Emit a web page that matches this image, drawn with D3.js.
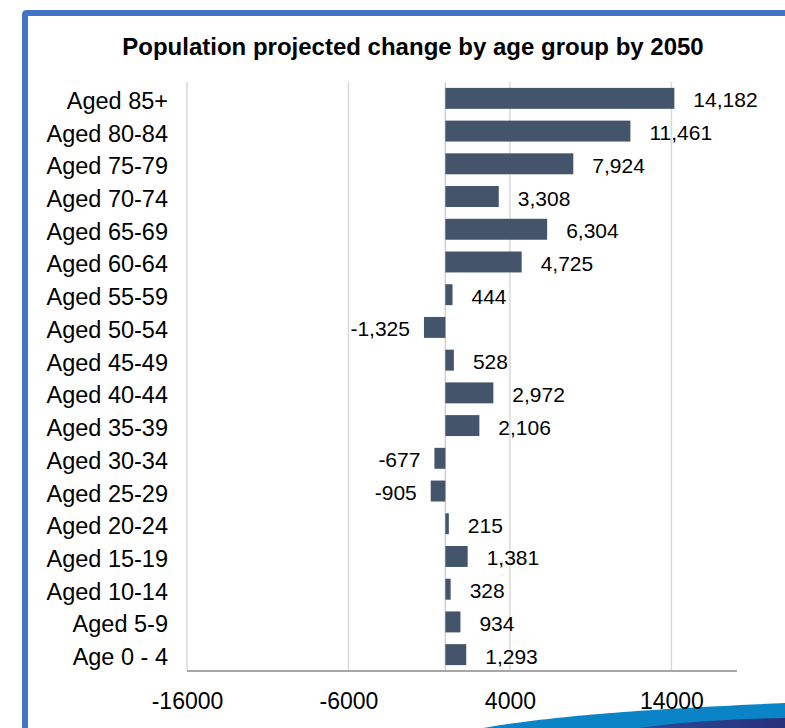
<!DOCTYPE html>
<html>
<head>
<meta charset="utf-8">
<script src="https://cdn.jsdelivr.net/npm/d3@7"></script>
<style>
  body { margin: 0; background: #fff; }
  svg text { font-family: "Liberation Sans", Arial, sans-serif; fill: #000; }
</style>
</head>
<body>
<div id="chart"></div>
<script>
// chart data
var categories = ["Aged 85+", "Aged 80-84", "Aged 75-79", "Aged 70-74", "Aged 65-69",
  "Aged 60-64", "Aged 55-59", "Aged 50-54", "Aged 45-49", "Aged 40-44", "Aged 35-39",
  "Aged 30-34", "Aged 25-29", "Aged 20-24", "Aged 15-19", "Aged 10-14", "Aged 5-9", "Age 0 - 4"];
var values = [14182, 11461, 7924, 3308, 6304, 4725, 444, -1325, 528, 2972, 2106,
  -677, -905, 215, 1381, 328, 934, 1293];
var xTicks = [-16000, -6000, 4000, 14000];
var xDomain = [-16000, 18000];
var title = "Population projected change by age group by 2050";

var width = 785;
var height = 728;

// plain hyphen for negatives, like the original
var locale = d3.formatLocale({ decimal: ".", thousands: ",", grouping: [3], currency: ["", ""], minus: "-" });
var fmt = locale.format(",");
var tickFmt = locale.format("d");

var svg = d3.select("#chart")
  .append("svg")
  .attr("width", width)
  .attr("height", height);

// decorative swoosh at the bottom
svg.append("path")
  .attr("fill", "#0a84c6")
  .attr("d", "M483,728 C540,718 620,710 785,703 L785,728 Z");
var grad = svg.append("defs").append("linearGradient")
  .attr("id", "navy").attr("x1", "0").attr("x2", "1");
grad.append("stop").attr("offset", "0").attr("stop-color", "#2a4a9a");
grad.append("stop").attr("offset", "1").attr("stop-color", "#27307a");
svg.append("path")
  .attr("fill", "url(#navy)")
  .attr("d", "M638,728 C680,722 730,719 785,718 L785,728 Z");

// blue frame (top and left)
svg.append("path")
  .attr("fill", "none")
  .attr("stroke", "#4472c4")
  .attr("stroke-width", 6)
  .attr("d", "M25,728 L25,15 Q25,13 27,13 L785,13");

svg.append("text")
  .attr("x", 413)
  .attr("y", 55)
  .attr("text-anchor", "middle")
  .style("font-size", "24px")
  .style("font-weight", "bold")
  .text(title);

var x = d3.scaleLinear().domain(xDomain).range([187, 736]);
var y = d3.scaleBand().domain(categories).range([82, 671]).paddingInner(0.36).paddingOuter(0.18);

// gridlines
svg.append("g")
  .selectAll("line")
  .data(xTicks)
  .join("line")
  .attr("x1", d => x(d)).attr("x2", d => x(d))
  .attr("y1", 82).attr("y2", 671)
  .attr("stroke", "#d9d9d9")
  .attr("stroke-width", 1.5);

// zero line
svg.append("line")
  .attr("x1", x(0)).attr("x2", x(0))
  .attr("y1", 82).attr("y2", 671)
  .attr("stroke", "#d0d0d0")
  .attr("stroke-width", 1.5);

// bars
svg.append("g")
  .selectAll("rect")
  .data(values)
  .join("rect")
  .attr("x", d => x(Math.min(0, d)))
  .attr("width", d => Math.abs(x(d) - x(0)))
  .attr("y", (d, i) => y(categories[i]))
  .attr("height", y.bandwidth())
  .attr("fill", "#44546a");

// value labels
svg.append("g")
  .selectAll("text")
  .data(values)
  .join("text")
  .attr("x", d => d >= 0 ? x(d) + 19 : x(d) - 14)
  .attr("y", (d, i) => y(categories[i]) + y.bandwidth() / 2 + 9)
  .attr("text-anchor", d => d >= 0 ? "start" : "end")
  .style("font-size", "21px")
  .text(d => fmt(d));

// category axis
var yAxis = svg.append("g")
  .attr("transform", "translate(187,0)")
  .call(d3.axisLeft(y).tickSize(0).tickPadding(19));
yAxis.select(".domain").remove();
yAxis.selectAll("text")
  .attr("dy", null)
  .attr("y", 10.5)
  .style("font-size", "23.5px")
  .style("font-family", "'Liberation Sans', Arial, sans-serif");

// value axis
svg.append("line")
  .attr("x1", 187).attr("x2", 737)
  .attr("y1", 671).attr("y2", 671)
  .attr("stroke", "#a6a6a6")
  .attr("stroke-width", 2);

var xAxis = svg.append("g")
  .attr("transform", "translate(0,671)")
  .call(d3.axisBottom(x).tickValues(xTicks).tickSize(0).tickPadding(0).tickFormat(tickFmt));
xAxis.select(".domain").remove();
xAxis.selectAll("text")
  .attr("dy", null)
  .attr("y", 38)
  .style("font-size", "23px")
  .style("font-family", "'Liberation Sans', Arial, sans-serif");
</script>
</body>
</html>
